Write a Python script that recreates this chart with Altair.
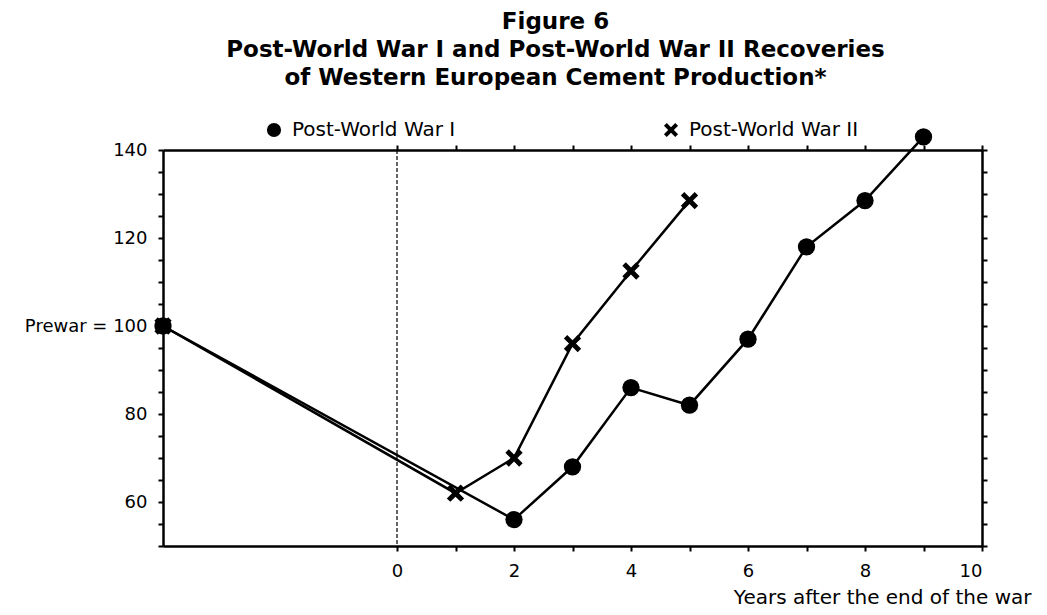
import altair as alt
import pandas as pd

# Data (index, prewar = 100)
series_names = ["Post-World War I", "Post-World War II"]
years_ww1 = [-4, 2, 3, 4, 5, 6, 7, 8, 9]
index_ww1 = [100, 56, 68, 86, 82, 97, 118, 128.5, 143]
years_ww2 = [-4, 1, 2, 3, 4, 5]
index_ww2 = [100, 62, 70, 96, 112.5, 128.5]

x_ticks = list(range(0, 11))
y_ticks = list(range(50, 141, 5))
zero_line = [0]

df = pd.DataFrame(
    {"x": years_ww1 + years_ww2,
     "y": index_ww1 + index_ww2,
     "series": [series_names[0]] * len(years_ww1) + [series_names[1]] * len(years_ww2)}
)
zero_df = pd.DataFrame({"x": zero_line})

FONT = "DejaVu Sans"
XPATH = "M-1,-0.6L-0.6,-1L0,-0.4L0.6,-1L1,-0.6L0.4,0L1,0.6L0.6,1L0,0.4L-0.6,1L-1,0.6L-0.4,0Z"

xscale = alt.Scale(domain=[-4, 10], nice=False, zero=False)
yscale = alt.Scale(domain=[50, 140], nice=False, zero=False)

bottom_axis = alt.Axis(
    values=x_ticks,
    labelExpr="datum.value % 2 == 0 ? datum.label : ''",
    tickSize=5, labelPadding=11, labelFontSize=18, labelFont=FONT,
    title="Years after the end of the war", titleFont=FONT, titleFontSize=20,
    titleFontWeight="normal", titleX=868, titleY=57, titleAlign="right",
    titleBaseline="alphabetic", titleAnchor="end",
    grid=False, domainWidth=2.5, tickWidth=2,
)
left_axis = alt.Axis(
    values=y_ticks,
    labelExpr="datum.value == 100 ? 'Prewar = 100' : (datum.value % 20 == 0 ? datum.label : '')",
    tickSize=5, labelPadding=11, labelFontSize=18, labelFont=FONT,
    title=None, grid=False, domainWidth=2.5, tickWidth=2,
)
top_axis = alt.Axis(values=x_ticks, orient="top", labels=False, tickSize=5, title=None,
                    grid=False, domainWidth=2.5, tickWidth=2)
right_axis = alt.Axis(values=y_ticks, orient="right", labels=False, tickSize=5, title=None,
                      grid=False, domainWidth=2.5, tickWidth=2)

lines = alt.Chart(df).mark_line(color="black", strokeWidth=2.5).encode(
    x=alt.X("x:Q", scale=xscale, axis=bottom_axis),
    y=alt.Y("y:Q", scale=yscale, axis=left_axis),
    detail="series:N",
)

points = alt.Chart(df).mark_point(filled=True, color="black", size=300, opacity=1).encode(
    x=alt.X("x:Q", scale=xscale, axis=None),
    y=alt.Y("y:Q", scale=yscale, axis=None),
    shape=alt.Shape(
        "series:N",
        scale=alt.Scale(domain=series_names, range=["circle", XPATH]),
        legend=alt.Legend(
            title=None, orient="none", legendX=101, legendY=-30, direction="horizontal",
            labelFont=FONT, labelFontSize=20, labelColor="black", labelLimit=400,
            symbolSize=200, symbolFillColor="black", symbolStrokeColor="black",
            symbolStrokeWidth=0, labelOffset=8, columnPadding=205, padding=0,
        ),
    ),
)

zero_rule = alt.Chart(zero_df).mark_rule(color="black", strokeWidth=1.2, strokeDash=[4, 2]).encode(
    x=alt.X("x:Q", scale=xscale, axis=None)
)

frame = alt.Chart(df).mark_point(opacity=0).encode(
    x=alt.X("x:Q", scale=xscale, axis=top_axis),
    y=alt.Y("y:Q", scale=yscale, axis=right_axis),
)

chart = (
    alt.layer(zero_rule, lines, points, frame)
    .resolve_axis(x="independent", y="independent")
    .properties(
        width=819, height=396,
        padding={"left": 155, "top": 142, "right": 57, "bottom": 61},
        autosize=alt.AutoSizeParams(type="none"),
        title=alt.TitleParams(
            text=["Figure 6",
                  "Post-World War I and Post-World War II Recoveries",
                  "of Western European Cement Production*"],
            font=FONT, fontSize=23, fontWeight="bold", color="black",
            lineHeight=28, anchor="middle", dx=-17, offset=30,
        ),
        background="white",
    )
    .configure_view(stroke=None)
    .configure_axis(domainColor="black", tickColor="black", labelColor="black", titleColor="black")
)

chart.save("out.html", embed_options={"renderer": "svg", "actions": False})
